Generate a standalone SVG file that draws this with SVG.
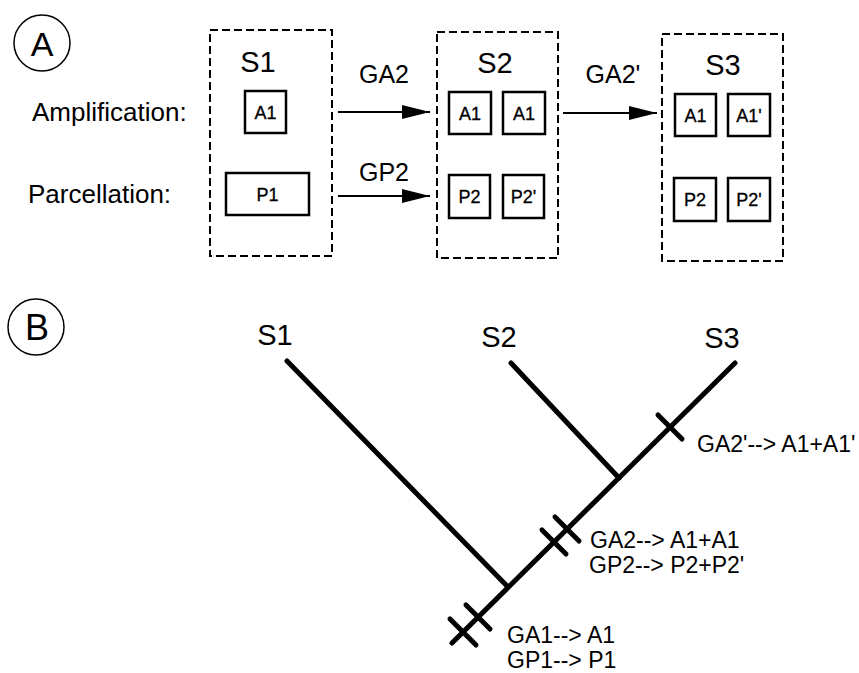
<svg xmlns="http://www.w3.org/2000/svg" width="859" height="673" viewBox="0 0 859 673">
<style>
text{font-family:"Liberation Sans",Arial,sans-serif;fill:#000}
.lbl{font-size:26px}
.st{font-size:29px;text-anchor:middle}
.gn{font-size:25px;text-anchor:middle}
.bx{font-size:18px;text-anchor:middle;stroke:#000;stroke-width:0.3}
.ev{font-size:23px}
.dash{fill:none;stroke:#000;stroke-width:2;stroke-dasharray:8 4}
.box{fill:#fff;stroke:#000;stroke-width:2.5}
.arr{stroke:#000;stroke-width:2;fill:none}
.tree{stroke:#000;stroke-width:5;stroke-linecap:round;fill:none}
.tick{stroke:#000;stroke-width:5;stroke-linecap:round}
.circ{fill:none;stroke:#000;stroke-width:1.5}
</style>
<defs>
<marker id="ah" markerUnits="userSpaceOnUse" markerWidth="28" markerHeight="14" refX="28" refY="7" orient="auto">
<path d="M0,0 L28,7 L0,14 z" fill="#000"/>
</marker>
</defs>
<rect width="859" height="673" fill="#fff"/>

<g id="labelA">
<circle class="circ" cx="42" cy="43" r="28"/>
<text x="42" y="56" text-anchor="middle" style="font-size:34px">A</text>
</g>
<g id="rowlabels">
<text class="lbl" x="32" y="121">Amplification:</text>
<text class="lbl" x="28" y="203">Parcellation:</text>
</g>

<g id="S1box">
<rect class="dash" x="210" y="30" width="122" height="226"/>
<text class="st" x="258" y="72">S1</text>
<rect class="box" x="245" y="91" width="41" height="42"/>
<text class="bx" x="265.5" y="119">A1</text>
<rect class="box" x="226" y="173" width="83" height="42"/>
<text class="bx" x="267.5" y="201">P1</text>
</g>

<g id="S2box">
<rect class="dash" x="437" y="32" width="121" height="226"/>
<text class="st" x="495" y="73">S2</text>
<rect class="box" x="449" y="92" width="42" height="42"/>
<text class="bx" x="470" y="120">A1</text>
<rect class="box" x="503" y="92" width="42" height="42"/>
<text class="bx" x="524" y="120">A1</text>
<rect class="box" x="449" y="175" width="41" height="43"/>
<text class="bx" x="469.5" y="203">P2</text>
<rect class="box" x="503" y="175" width="41" height="43"/>
<text class="bx" x="523.5" y="203">P2'</text>
</g>

<g id="S3box">
<rect class="dash" x="662" y="34" width="121" height="227"/>
<text class="st" x="723" y="75">S3</text>
<rect class="box" x="675" y="94" width="41" height="42"/>
<text class="bx" x="695.5" y="122">A1</text>
<rect class="box" x="728" y="94" width="42" height="42"/>
<text class="bx" x="749" y="122">A1'</text>
<rect class="box" x="674" y="178" width="42" height="43"/>
<text class="bx" x="695" y="206">P2</text>
<rect class="box" x="728" y="178" width="42" height="43"/>
<text class="bx" x="749" y="206">P2'</text>
</g>

<g id="connectors">
<line class="arr" x1="338" y1="112" x2="430" y2="112" marker-end="url(#ah)"/>
<text class="gn" x="384" y="83">GA2</text>
<line class="arr" x1="338" y1="196" x2="430" y2="196" marker-end="url(#ah)"/>
<text class="gn" x="384" y="181">GP2</text>
<line class="arr" x1="563" y1="113" x2="657" y2="113" marker-end="url(#ah)"/>
<text class="gn" x="613" y="83">GA2'</text>
</g>

<g id="labelB">
<circle class="circ" cx="36" cy="327" r="28"/>
<text x="37" y="340" text-anchor="middle" style="font-size:36px">B</text>
</g>

<g id="tree">
<line class="tree" x1="735" y1="363" x2="452" y2="643"/>
<line class="tree" x1="287" y1="361" x2="508" y2="587"/>
<line class="tree" x1="511" y1="363" x2="619" y2="478"/>
<line class="tick" x1="658" y1="415" x2="682" y2="439"/>
<line class="tick" x1="555" y1="517" x2="579" y2="541"/>
<line class="tick" x1="542" y1="530" x2="566" y2="554"/>
<line class="tick" x1="466" y1="605" x2="490" y2="629"/>
<line class="tick" x1="450" y1="619" x2="476" y2="645"/>
</g>

<g id="taxa">
<text class="st" x="275" y="345">S1</text>
<text class="st" x="499" y="347">S2</text>
<text class="st" x="722" y="348">S3</text>
</g>

<g id="events">
<text class="ev" x="697" y="452">GA2'--&gt; A1+A1'</text>
<text class="ev" x="590" y="548">GA2--&gt; A1+A1</text>
<text class="ev" x="589" y="573">GP2--&gt; P2+P2'</text>
<text class="ev" x="507" y="643">GA1--&gt; A1</text>
<text class="ev" x="507" y="668">GP1--&gt; P1</text>
</g>
</svg>
